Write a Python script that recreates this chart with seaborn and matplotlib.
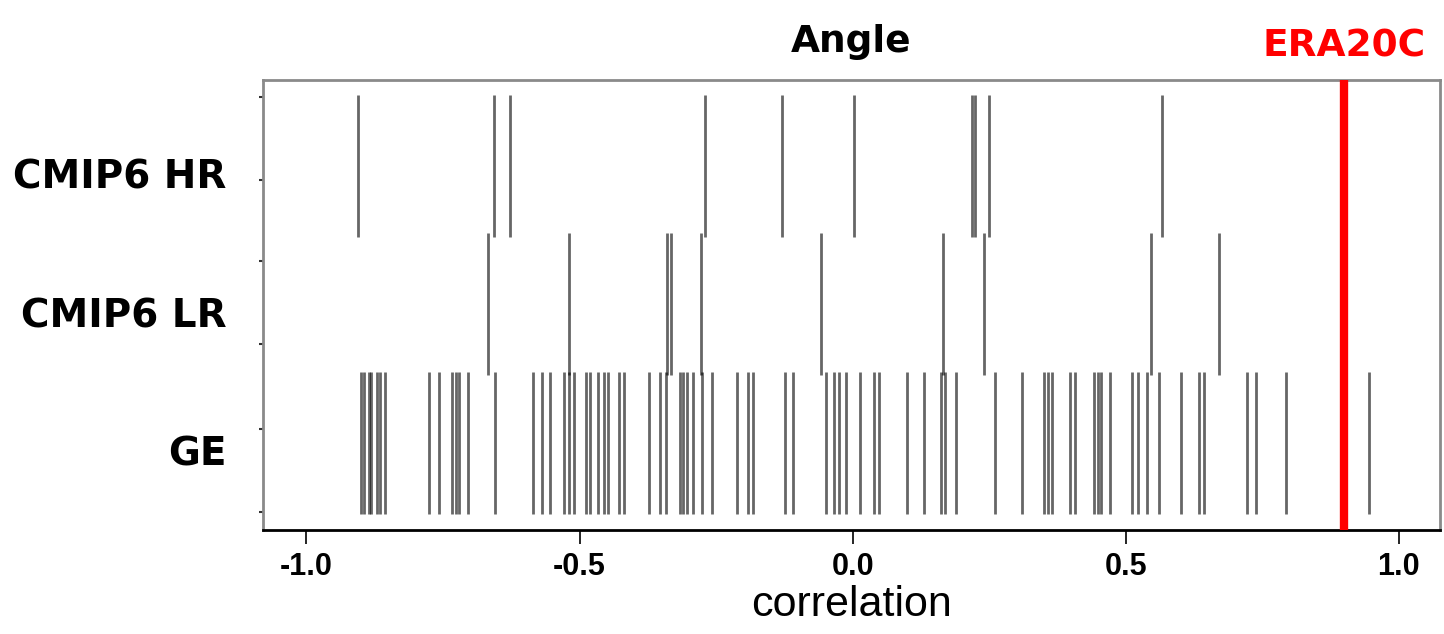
import matplotlib
matplotlib.use("Agg")
import matplotlib.pyplot as plt
import matplotlib.transforms as mtransforms
import seaborn as sns
import pandas as pd

# correlation values
hr = [-0.905, -0.656, -0.628, -0.270, -0.129, 0.003, 0.219, 0.224, 0.250, 0.566]
lr = [-0.667, -0.519, -0.339, -0.332, -0.277, -0.058, 0.165, 0.240, 0.546, 0.671]
ge = [-0.900, -0.894, -0.886, -0.881, -0.871, -0.865, -0.857, -0.776, -0.758, -0.733,
      -0.726, -0.720, -0.704, -0.654, -0.586, -0.568, -0.555, -0.528, -0.519, -0.510,
      -0.488, -0.480, -0.467, -0.455, -0.447, -0.427, -0.418, -0.372, -0.353, -0.341,
      -0.316, -0.310, -0.303, -0.292, -0.275, -0.257, -0.211, -0.191, -0.182, -0.124,
      -0.109, -0.048, -0.034, -0.025, -0.012, 0.013, 0.039, 0.048, 0.100, 0.131,
      0.161, 0.169, 0.189, 0.261, 0.310, 0.350, 0.358, 0.365, 0.398, 0.407,
      0.442, 0.449, 0.455, 0.471, 0.511, 0.523, 0.539, 0.561, 0.601, 0.634,
      0.643, 0.722, 0.738, 0.793, 0.945]
era20c = 0.90
groups = ["CMIP6 HR", "CMIP6 LR", "GE"]

df = pd.DataFrame({
    "correlation": hr + lr + ge,
    "group": [groups[0]] * len(hr) + [groups[1]] * len(lr) + [groups[2]] * len(ge),
})

sns.set_style("white")
plt.rcParams["text.color"] = "black"
plt.rcParams["axes.labelcolor"] = "black"
plt.rcParams["xtick.color"] = "black"
plt.rcParams["ytick.color"] = "black"

fig = plt.figure(figsize=(14.44, 6.34), dpi=100)
ax = fig.add_axes([0.182, 0.164, 0.815, 0.71])

sns.stripplot(data=df, x="correlation", y="group", order=groups, jitter=False,
              marker="|", s=102, linewidth=2, color="black", alpha=0.6, ax=ax)

ax.axvline(era20c, color="red", linewidth=6, zorder=5)

ax.set_xlim(-1.08, 1.075)
ax.set_ylim(2.63, -0.62)
ax.set_xticks([-1.0, -0.5, 0.0, 0.5, 1.0])
ax.set_xticklabels(["-1.0", "-0.5", "0.0", "0.5", "1.0"],
                   fontsize=22, fontweight="bold", family="Liberation Sans")
ax.tick_params(axis="x", length=10, width=1.2, pad=6, bottom=True)
ax.set_xlabel("correlation", fontsize=31, family="Liberation Sans", labelpad=2)
ax.set_ylabel("")
ax.set_yticks(range(3))
ax.set_yticklabels(groups, fontsize=28, fontweight="bold", family="DejaVu Sans")
ax.tick_params(axis="y", length=0, pad=26)
shift = mtransforms.ScaledTranslation(0, -8 / 100, fig.dpi_scale_trans)
for lab in ax.get_yticklabels():
    lab.set_transform(lab.get_transform() + shift)
ax.set_yticks([-0.5, 0.1, 0.69, 1.29, 1.9, 2.5], minor=True)
ax.tick_params(axis="y", which="minor", length=3, width=1.5, color="#333333", left=True)

for side in ["top", "left", "right"]:
    ax.spines[side].set_color("#8a8a8a")
    ax.spines[side].set_linewidth(2)
ax.spines["bottom"].set_color("black")
ax.spines["bottom"].set_linewidth(2)

ax.set_title("Angle", fontsize=27, fontweight="bold", pad=20)
ax.text(era20c, 1.035, "ERA20C", transform=ax.get_xaxis_transform(),
        color="red", fontsize=27, fontweight="bold", ha="center", va="bottom")

fig.savefig("out.png", dpi=100)
